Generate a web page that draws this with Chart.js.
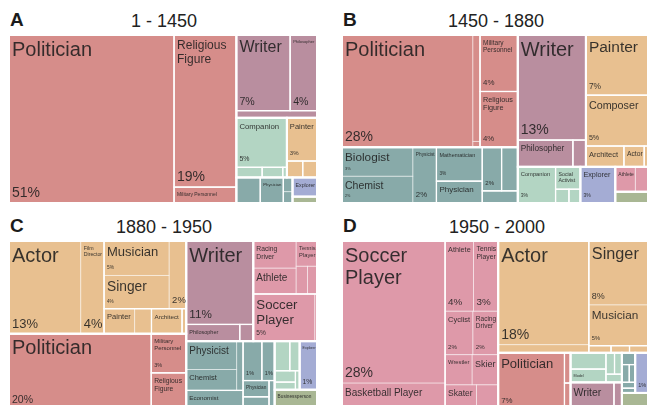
<!DOCTYPE html>
<html>
<head>
<meta charset="utf-8">
<script src="https://cdn.jsdelivr.net/npm/chart.js@4.4.1/dist/chart.umd.min.js"></script>
<style>
  html, body { margin: 0; padding: 0; background: #fff; overflow: hidden; }
  body { width: 649px; height: 405px; position: relative; font-family: "Liberation Sans", Arial, Helvetica, sans-serif; }
  .letter { position: absolute; font-weight: bold; font-size: 19px; line-height: 19px; color: #1b1b1b; }
  .title { position: absolute; font-size: 18px; line-height: 18px; color: #222; width: 200px; text-align: center; }
  canvas { position: absolute; }
</style>
</head>
<body>
<div class="letter" style="left:10px;top:10px">A</div>
<div class="title" id="titleA" style="left:64px;top:12px"></div>
<div class="letter" style="left:343px;top:10px">B</div>
<div class="title" id="titleB" style="left:396px;top:12px"></div>
<div class="letter" style="left:10px;top:216px">C</div>
<div class="title" id="titleC" style="left:64px;top:218px"></div>
<div class="letter" style="left:343px;top:216px">D</div>
<div class="title" id="titleD" style="left:397px;top:218px"></div>

<canvas id="chartA" width="308" height="168" style="left:9px;top:35px"></canvas>
<canvas id="chartB" width="306" height="168" style="left:342px;top:35px"></canvas>
<canvas id="chartC" width="308" height="168" style="left:9px;top:241px"></canvas>
<canvas id="chartD" width="306" height="168" style="left:342px;top:241px"></canvas>

<script>
// panel titles
const periods = ['1 - 1450', '1450 - 1880', '1880 - 1950', '1950 - 2000'];

// domain colours
const domainColors = {
    inst: '#d68d8a', hum: '#b98e9f', arts: '#e8c090', sci: '#88aaa9',
    pub: '#b3d5c3', sport: '#de99a9', expl: '#a4acd4', biz: '#a9b794'
};

// ---- A: 1 - 1450 ----
const namesA = ['Politician', 'Religious Figure', 'Military Personnel', 'Writer', 'Philosopher', '',
    'Companion', '', '', '', 'Painter', '', '', '', 'Physician', '', '', 'Explorer', ''];
const valuesA = [53.2, 18.2, 1.9, 7.8, 3.9, 1.1,
    4.8, 0.5, 0.4, 0.08, 2.5, 0.5, 0.45, 1.17, 1.13, 0.25, 0.2, 0.9, 0.3];
const domainsA = ['inst', 'inst', 'inst', 'hum', 'hum', 'hum',
    'pub', 'pub', 'pub', 'pub', 'arts', 'arts', 'arts', 'sci', 'sci', 'sci', 'sci', 'expl', 'biz'];
const industriesA = ['gov', 'rel', 'mil', 'lang', 'phil', 'hist',
    'comp', 'p2', 'p3', 'p4', 'fine', 'a2', 'a3', 's1', 'med', 's3', 's3', 'ex', 'bz'];
const sharesA = [51, 19, null, 7, 4, null,
    5, null, null, null, 3, null, null, null, null, null, null, null, null];

// ---- B: 1450 - 1880 ----
const namesB = ['Politician', '', '', 'Military Personnel', 'Religious Figure',
    'Biologist', 'Chemist', 'Physicist', 'Mathematician', 'Physician', '', '', 'Engineer',
    'Writer', 'Philosopher', '',
    'Painter', 'Composer', 'Architect', 'Actor', '',
    'Companion', 'Social Activist', '', '',
    'Explorer', 'Athlete', '', ''];
const valuesB = [27.9, 1.46, 0.08, 4.05, 4.0,
    3.9, 3.6, 2.5, 2.95, 1.9, 1.6, 1.34, 0.82,
    13.6, 2.8, 0.66,
    7.1, 6.0, 1.5, 0.8, 0.15,
    2.6, 1.06, 0.35, 0.3,
    2.4, 0.95, 0.6, 0.7];
const domainsB = ['inst', 'inst', 'inst', 'inst', 'inst',
    'sci', 'sci', 'sci', 'sci', 'sci', 'sci', 'sci', 'sci',
    'hum', 'hum', 'hum',
    'arts', 'arts', 'arts', 'arts', 'arts',
    'pub', 'pub', 'pub', 'pub',
    'expl', 'sport', 'sport', 'biz'];
const industriesB = ['gov', 'gov', 'gov', 'mil', 'rel',
    'nat', 'nat', 'nat', 'math', 'med', 's6', 's7', 'eng',
    'lang', 'phil', 'hist',
    'fine', 'music', 'design', 'film', 'a5',
    'comp', 'act', 'p3', 'p4',
    'ex', 'indiv', 'indiv', 'bz'];
const sharesB = [28, null, null, 4, 4,
    3, 2, 2, 3, null, 2, null, null,
    13, null, null,
    7, 5, null, null, null,
    3, null, null, null,
    3, null, null, null];

// ---- C: 1880 - 1950 ----
const namesC = ['Actor', 'Film Director', 'Musician', 'Singer', '', 'Painter', '', 'Architect', '',
    'Politician', 'Military Personnel', 'Religious Figure',
    'Writer', 'Philosopher', '',
    'Racing Driver', 'Athlete', 'Tennis Player', '', '', 'Soccer Player', '',
    'Physicist', 'Chemist', 'Inventor', 'Economist', '', '', 'Physician', '', '',
    '', '', '', '', '',
    'Explorer', 'Businessperson'];
const valuesC = [12.6, 4.1, 4.25, 4.1, 2.2, 1.45, 0.8, 1.45, 0.2,
    20.3, 2.6, 2.4,
    10.6, 1.7, 0.43,
    2.2, 2.1, 1.0, 0.6, 0.5, 5.5, 0.2,
    2.7, 2.0, 0.6, 2.0, 1.4, 0.95, 0.8, 0.6, 0.3,
    0.85, 0.55, 0.45, 0.3, 0.15,
    1.6, 1.55];
const domainsC = ['arts', 'arts', 'arts', 'arts', 'arts', 'arts', 'arts', 'arts', 'arts',
    'inst', 'inst', 'inst',
    'hum', 'hum', 'hum',
    'sport', 'sport', 'sport', 'sport', 'sport', 'sport', 'sport',
    'sci', 'sci', 'sci', 'sci', 'sci', 'sci', 'sci', 'sci', 'sci',
    'pub', 'pub', 'pub', 'pub', 'pub',
    'expl', 'biz'];
const industriesC = ['film', 'film', 'music', 'music', 'music', 'fine', 'fine', 'design', 'a9',
    'gov', 'mil', 'rel',
    'lang', 'phil', 'hist',
    'indiv', 'indiv', 'indiv', 'indiv', 'indiv', 'team', 'team',
    'nat', 'nat', 'nat', 'soc', 's5', 's6', 'med', 's8', 's9',
    'p1', 'p2', 'p3', 'p4', 'p5',
    'ex', 'bz'];
const sharesC = [13, 4, 5, 4, 2, null, null, null, null,
    20, 3, null,
    11, null, null,
    null, null, null, null, null, 5, null,
    null, null, null, null, 1, 1, null, null, null,
    null, null, null, null, null,
    1, null];

// ---- D: 1950 - 2000 ----
const namesD = ['Soccer Player', 'Basketball Player', 'Athlete', 'Tennis Player', 'Cyclist', 'Racing Driver',
    'Wrestler', 'Skier', 'Skater', '',
    'Actor', '', 'Singer', 'Musician', '', '', '',
    'Politician', '', '',
    'Pornographic Actor', 'Model', '', '', '',
    'Writer', '',
    '', '', '', '', '',
    'Explorer', ''];
const valuesD = [27.9, 5.1, 3.8, 3.3, 2.3, 2.1,
    1.55, 1.5, 1.45, 1.0,
    17.9, 1.4, 7.2, 4.6, 0.3, 0.25, 0.25,
    7.1, 0.35, 0.3,
    1.1, 0.9, 0.35, 0.3, 0.25,
    2.2, 0.4,
    0.3, 0.25, 0.2, 0.15, 0.12,
    0.98, 0.8];
const domainsD = ['sport', 'sport', 'sport', 'sport', 'sport', 'sport',
    'sport', 'sport', 'sport', 'sport',
    'arts', 'arts', 'arts', 'arts', 'arts', 'arts', 'arts',
    'inst', 'inst', 'inst',
    'pub', 'pub', 'pub', 'pub', 'pub',
    'hum', 'hum',
    'sci', 'sci', 'sci', 'sci', 'sci',
    'expl', 'biz'];
const industriesD = ['team', 'team', 'indiv', 'indiv', 'indiv', 'indiv',
    'indiv', 'indiv', 'indiv', 'indiv',
    'film', 'film', 'music', 'music', 'a5', 'a6', 'a7',
    'gov', 'g2', 'g3',
    'porn', 'model', 'p3', 'p4', 'p5',
    'lang', 'h2',
    's1', 's2', 's3', 's4', 's5',
    'ex', 'bz'];
const sharesD = [28, null, 4, 3, 2, 2,
    null, null, null, null,
    18, null, 8, 5, null, null, null,
    7, null, null,
    null, null, null, null, null,
    null, null,
    null, null, null, null, null,
    1, null];

const PHI = (1 + Math.sqrt(5)) / 2;
const FONT = '"Liberation Sans", Arial, Helvetica, sans-serif';

// domain -> industry -> occupation
function buildTree(names, values, domains, industries, shares) {
    const root = { children: [] };
    const dmap = {};
    names.forEach((n, i) => {
        let d = dmap[domains[i]];
        if (!d) {
            d = dmap[domains[i]] = { key: domains[i], children: [], imap: {} };
            root.children.push(d);
        }
        let ind = d.imap[industries[i]];
        if (!ind) {
            ind = d.imap[industries[i]] = { key: industries[i], children: [] };
            d.children.push(ind);
        }
        ind.children.push({ name: n, value: values[i], share: shares[i], domain: domains[i] });
    });
    sumSort(root);
    return root;
}

function sumSort(node) {
    if (!node.children) return;
    node.value = 0;
    node.children.forEach(c => { sumSort(c); node.value += c.value; });
    node.children.sort((a, b) => b.value - a.value);
}

// squarified rows, same rule as d3 (golden ratio)
function squarify(nodes, total, x0, y0, x1, y1) {
    let i0 = 0, i1 = 0, value = total;
    const n = nodes.length;
    while (i0 < n) {
        const dx = x1 - x0, dy = y1 - y0;
        let sum = nodes[i1++].value;
        let minV = sum, maxV = sum;
        const alpha = Math.max(dy / dx, dx / dy) / (value * PHI);
        let beta = sum * sum * alpha;
        let minRatio = Math.max(maxV / beta, beta / minV);
        for (; i1 < n; ++i1) {
            const v = nodes[i1].value;
            sum += v;
            if (v < minV) minV = v;
            if (v > maxV) maxV = v;
            beta = sum * sum * alpha;
            const r = Math.max(maxV / beta, beta / minV);
            if (r > minRatio) { sum -= v; break; }
            minRatio = r;
        }
        const row = nodes.slice(i0, i1);
        if (dx < dy) {
            const yb = i1 < n ? y0 + dy * sum / value : y1;
            let x = x0;
            row.forEach(c => {
                const w = dx * c.value / sum;
                c.rect = [x, y0, x + w, yb];
                x += w;
            });
            y0 = yb;
        } else {
            const xb = i1 < n ? x0 + dx * sum / value : x1;
            let y = y0;
            row.forEach(c => {
                const h = dy * c.value / sum;
                c.rect = [x0, y, xb, y + h];
                y += h;
            });
            x0 = xb;
        }
        value -= sum;
        i0 = i1;
    }
}

function layout(node, rect) {
    node.rect = rect;
    if (node.children) {
        squarify(node.children, node.value, rect[0], rect[1], rect[2], rect[3]);
        node.children.forEach(c => layout(c, c.rect));
    }
}

function fitName(ctx, name, w, h) {
    const words = name.split(' ');
    for (let fs = 20; fs >= 3.5; fs -= 0.25) {
        ctx.font = fs + 'px ' + FONT;
        const maxW = w * 0.8;
        const lines = [];
        let cur = '';
        let ok = true;
        for (const wd of words) {
            if (ctx.measureText(wd).width > maxW) { ok = false; break; }
            const t = cur ? cur + ' ' + wd : wd;
            if (ctx.measureText(t).width <= maxW) cur = t;
            else { lines.push(cur); cur = wd; }
        }
        if (!ok) continue;
        if (cur) lines.push(cur);
        if (lines.length * fs * 1.15 + fs * 0.8 + 6 <= h) return { fs, lines };
    }
    return null;
}

const treemapCells = {
    id: 'treemapCells',
    afterDatasetsDraw(chart) {
        const root = chart.data.datasets[0].tree;
        const xs = chart.scales.x, ys = chart.scales.y;
        const ctx = chart.ctx;
        const box = r => {
            const a = xs.getPixelForValue(r[0]), b = ys.getPixelForValue(r[1]);
            const c = xs.getPixelForValue(r[2]), d = ys.getPixelForValue(r[3]);
            return { x: Math.min(a, c), y: Math.min(b, d), w: Math.abs(c - a), h: Math.abs(d - b) };
        };
        const leaves = [], inds = [];
        root.children.forEach(d => d.children.forEach(ind => {
            inds.push(ind);
            ind.children.forEach(l => leaves.push(l));
        }));

        ctx.save();
        leaves.forEach(l => {
            const p = box(l.rect);
            ctx.fillStyle = domainColors[l.domain];
            ctx.fillRect(p.x, p.y, p.w, p.h);
        });
        ctx.strokeStyle = 'rgba(255,255,255,0.35)';
        ctx.lineWidth = 1;
        leaves.forEach(l => { const p = box(l.rect); ctx.strokeRect(p.x, p.y, p.w, p.h); });
        ctx.strokeStyle = '#fff';
        ctx.lineWidth = 1.2;
        inds.forEach(n => { const p = box(n.rect); ctx.strokeRect(p.x, p.y, p.w, p.h); });
        ctx.lineWidth = 2;
        root.children.forEach(n => { const p = box(n.rect); ctx.strokeRect(p.x, p.y, p.w, p.h); });

        // labels
        ctx.fillStyle = 'rgba(30,30,30,0.88)';
        leaves.forEach(l => {
            const p = box(l.rect);
            ctx.save();
            ctx.beginPath();
            ctx.rect(p.x, p.y, p.w, p.h);
            ctx.clip();
            if (l.name) {
                const f = fitName(ctx, l.name, p.w, p.h);
                if (f) {
                    ctx.font = f.fs + 'px ' + FONT;
                    ctx.textBaseline = 'top';
                    f.lines.forEach((t, k) => ctx.fillText(t, p.x + 3, p.y + 5 + k * f.fs * 1.1));
                }
            }
            if (l.share != null) {
                const txt = l.share + '%';
                ctx.font = '10px ' + FONT;
                const em = ctx.measureText(txt).width / 10;
                const fs = Math.min(14, 0.14 * p.h, 0.8 * p.w / em);
                if (fs >= 3.5) {
                    ctx.font = fs + 'px ' + FONT;
                    ctx.textBaseline = 'alphabetic';
                    ctx.fillText(txt, p.x + 3, p.y + p.h - 6);
                }
            }
            ctx.restore();
        });
        ctx.restore();
    }
};

function makePanel(id, names, values, domains, industries, shares) {
    const canvas = document.getElementById(id);
    const W = canvas.width, H = canvas.height;
    const root = buildTree(names, values, domains, industries, shares);
    layout(root, [0, 0, W, H]);
    const centers = [];
    root.children.forEach(d => d.children.forEach(ind => ind.children.forEach(l => {
        centers.push({ x: (l.rect[0] + l.rect[2]) / 2, y: (l.rect[1] + l.rect[3]) / 2 });
    })));
    return new Chart(canvas.getContext('2d'), {
        type: 'scatter',
        data: { datasets: [{ data: centers, tree: root, pointRadius: 0, pointHoverRadius: 0 }] },
        options: {
            responsive: false,
            animation: false,
            events: [],
            layout: { padding: 0 },
            plugins: { legend: { display: false }, tooltip: { enabled: false }, title: { display: false } },
            scales: {
                x: { type: 'linear', min: 0, max: W, display: false },
                y: { type: 'linear', min: 0, max: H, reverse: true, display: false }
            }
        },
        plugins: [treemapCells]
    });
}

['A', 'B', 'C', 'D'].forEach((k, i) => { document.getElementById('title' + k).textContent = periods[i]; });

makePanel('chartA', namesA, valuesA, domainsA, industriesA, sharesA);
makePanel('chartB', namesB, valuesB, domainsB, industriesB, sharesB);
makePanel('chartC', namesC, valuesC, domainsC, industriesC, sharesC);
makePanel('chartD', namesD, valuesD, domainsD, industriesD, sharesD);
</script>
</body>
</html>
